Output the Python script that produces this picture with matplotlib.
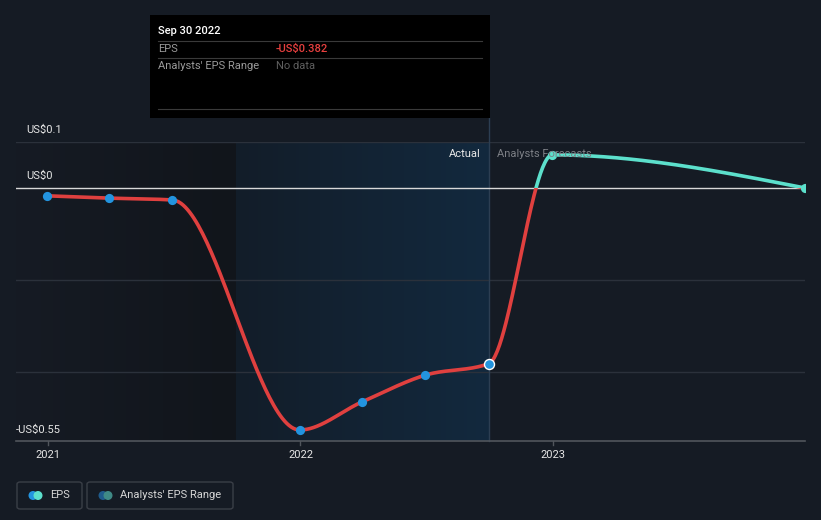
import numpy as np
import pandas as pd
import matplotlib
matplotlib.use("Agg")
import matplotlib.pyplot as plt
import matplotlib.dates as mdates
from matplotlib.patches import Rectangle, FancyBboxPatch, Ellipse
from matplotlib.lines import Line2D
from matplotlib.colors import LinearSegmentedColormap

plt.rcParams['font.family'] = ['Roboto', 'DejaVu Sans']

# ---------------- data ----------------
actual_dates = ["2020-12-31", "2021-03-31", "2021-06-30", "2021-12-31",
                "2022-03-31", "2022-06-30", "2022-09-30"]
actual_eps = [-0.017, -0.022, -0.026, -0.526, -0.465, -0.407, -0.382]
forecast_dates = ["2022-12-31", "2023-12-31"]
forecast_eps = [0.072, 0.0]
xtick_labels = ["2021", "2022", "2023"]
xtick_dates = ["2021-01-01", "2022-01-01", "2023-01-01"]
ytick_values = [0.1, 0.0, -0.55]
ytick_labels = ["US$0.1", "US$0", "-US$0.55"]
grid_values = [0.1, -0.2, -0.4]
highlight_start = "2021-09-30"
highlight_end = "2022-09-30"
tooltip_date = "Sep 30 2022"
tooltip_eps = "-US$0.382"

# ---------------- colors ----------------
BG = "#151b24"
RED = "#e0403f"
TEAL = "#5ce0cc"
BLUE = "#2394df"

W, H = 821, 520
fig = plt.figure(figsize=(W / 100, H / 100), dpi=100, facecolor=BG)

def fx(x):
    return x / W

def fy(y):
    return 1 - y / H

ax_l, ax_r, ax_t, ax_b = 16, 805, 142, 441
ax = fig.add_axes([fx(ax_l), fy(ax_b), (ax_r - ax_l) / W, (ax_b - ax_t) / H])
ax.set_facecolor(BG)
for s in ax.spines.values():
    s.set_visible(False)

to_num = lambda ds: mdates.date2num(pd.to_datetime(ds))
ax_dates = to_num(actual_dates)
fc_dates = to_num(forecast_dates)
all_x = np.concatenate([ax_dates, fc_dates])
all_y = np.array(actual_eps + forecast_eps)

x0 = to_num(["2020-11-16"])[0]
x1 = to_num(["2023-12-31"])[0]

# ---------------- backgrounds ----------------
hs, he = to_num([highlight_start, highlight_end])
grad = np.linspace(0, 1, 256).reshape(1, -1)
cm_left = LinearSegmentedColormap.from_list("l", ["#161b24", "#11151b"])
cm_hi = LinearSegmentedColormap.from_list("h", ["#131d29", "#12293e"])
ax.imshow(grad, extent=[x0, hs, -0.55, 0.1], aspect='auto', cmap=cm_left, zorder=0)
ax.imshow(grad, extent=[hs, he, -0.55, 0.1], aspect='auto', cmap=cm_hi, zorder=0)
ax.set_xlim(x0, x1)
ax.set_ylim(-0.55, 0.1)

# grid lines
for g in grid_values:
    ax.axhline(g, color="#2b313b", lw=1, zorder=1)
ax.axhline(0, color="#d8d8d8", lw=1, zorder=2)
ax.axhline(-0.55, color="#50555c", lw=1.2, zorder=2, clip_on=False)

# vertical line at the last actual value
ax.axvline(he, ymin=0, ymax=(ax_b - 118) / (ax_b - ax_t), color="#2c3e52", lw=1,
           zorder=1, clip_on=False)

# ---------------- monotone cubic (d3 monotoneX) ----------------
def monotone(xs, ys, n=60):
    xs = np.asarray(xs, float); ys = np.asarray(ys, float)
    k = len(xs)
    h = np.diff(xs); s = np.diff(ys) / h
    t = np.zeros(k)
    for i in range(1, k - 1):
        p = (s[i - 1] * h[i] + s[i] * h[i - 1]) / (h[i - 1] + h[i])
        t[i] = (np.sign(s[i - 1]) + np.sign(s[i])) * min(abs(s[i - 1]), abs(s[i]), 0.5 * abs(p))
    t[0] = (3 * s[0] - t[1]) / 2
    t[-1] = (3 * s[-1] - t[-2]) / 2
    X, Y = [], []
    for i in range(k - 1):
        u = np.linspace(0, 1, n)
        h00 = 2 * u**3 - 3 * u**2 + 1
        h10 = u**3 - 2 * u**2 + u
        h01 = -2 * u**3 + 3 * u**2
        h11 = u**3 - u**2
        X.append(xs[i] + u * h[i])
        Y.append(h00 * ys[i] + h10 * h[i] * t[i] + h01 * ys[i + 1] + h11 * h[i] * t[i + 1])
    return np.concatenate(X), np.concatenate(Y)

cx, cy = monotone(all_x, all_y)
line_red, = ax.plot(cx, cy, color=RED, lw=2.6, zorder=3, solid_capstyle='round')
line_teal, = ax.plot(cx, cy, color=TEAL, lw=2.6, zorder=3, solid_capstyle='round')
clip_neg = Rectangle((x0, -1), x1 - x0, 1, transform=ax.transData)
clip_pos = Rectangle((x0, 0), x1 - x0, 1, transform=ax.transData)
line_red.set_clip_path(clip_neg)
line_teal.set_clip_path(clip_pos)

# markers
ax.scatter(ax_dates[:-1], actual_eps[:-1], s=44, color=BLUE, zorder=5, linewidths=0)
ax.scatter(ax_dates[-1:], actual_eps[-1:], s=52, color=BLUE, zorder=5,
           edgecolors="white", linewidths=1.0)
ax.scatter(fc_dates, forecast_eps, s=44, color=TEAL, zorder=5, linewidths=0)

# ---------------- axis labels ----------------
ax.set_xticks([])
ax.set_yticks([])
for d, lab in zip(to_num(xtick_dates), xtick_labels):
    ax.plot([d, d], [0, -4 / 299], transform=ax.get_xaxis_transform(), color="#50555c",
            lw=1, clip_on=False)
    ax.text(d, -14 / 299, lab, transform=ax.get_xaxis_transform(), ha='center', va='center',
            color="#e6e6e6", fontsize=8)

ytext_pos = {0.1: (26, 130), 0.0: (26, 176), -0.55: (16, 430)}
for v, lab in zip(ytick_values, ytick_labels):
    xp, yp = ytext_pos[v]
    fig.text(fx(xp), fy(yp), lab, ha='left', va='center', color="#e6e6e6", fontsize=8)

fig.text(fx(481), fy(154), "Actual", ha='right', va='center', color="#e8e8e8", fontsize=8)
fig.text(fx(497), fy(154), "Analysts Forecasts", ha='left', va='center', color="#7d8086",
         fontsize=8)

# ---------------- tooltip ----------------
fig.patches.append(Rectangle((fx(150), fy(118)), (490 - 150) / W, (118 - 15) / H,
                             transform=fig.transFigure, facecolor="black", edgecolor="none",
                             zorder=10))
for yl in (41, 58, 109):
    fig.lines.append(Line2D([fx(158), fx(482)], [fy(yl), fy(yl)], transform=fig.transFigure,
                            color="#3a3a3a", lw=0.8, zorder=11))
fig.text(fx(158), fy(31), tooltip_date, ha='left', va='center', color="white", fontsize=8,
         fontweight='medium', zorder=12)
fig.text(fx(158), fy(49), "EPS", ha='left', va='center', color="#9a9a9a", fontsize=8, zorder=12)
fig.text(fx(276), fy(49), tooltip_eps, ha='left', va='center', color="#e8403f", fontsize=8,
         fontweight='medium', zorder=12)
fig.text(fx(158), fy(66), "Analysts' EPS Range", ha='left', va='center', color="#9a9a9a",
         fontsize=8, zorder=12)
fig.text(fx(276), fy(66), "No data", ha='left', va='center', color="#5f5f5f", fontsize=8,
         zorder=12)

# ---------------- legend ----------------
def legbox(x_left, x_right, c1, c2, label):
    fig.patches.append(FancyBboxPatch((fx(x_left), fy(509)), (x_right - x_left) / W, 27 / H,
                                      boxstyle="round,pad=0,rounding_size=0.004",
                                      transform=fig.transFigure, facecolor="none",
                                      edgecolor="#3a3f47", lw=1))
    r = 4.5
    for cxp, col in ((x_left + 16, c1), (x_left + 21, c2)):
        fig.patches.append(Ellipse((fx(cxp), fy(495.5)), 2 * r / W, 2 * r / H,
                                   transform=fig.transFigure, facecolor=col, edgecolor="none"))
    fig.text(fx(x_left + 33), fy(495.5), label, ha='left', va='center', color="#d6d6d6",
             fontsize=8)

legbox(17, 82, BLUE, TEAL, "EPS")
legbox(87, 233, "#1f5b8c", "#3f8a86", "Analysts' EPS Range")

fig.savefig("out.png", dpi=100, facecolor=BG)
